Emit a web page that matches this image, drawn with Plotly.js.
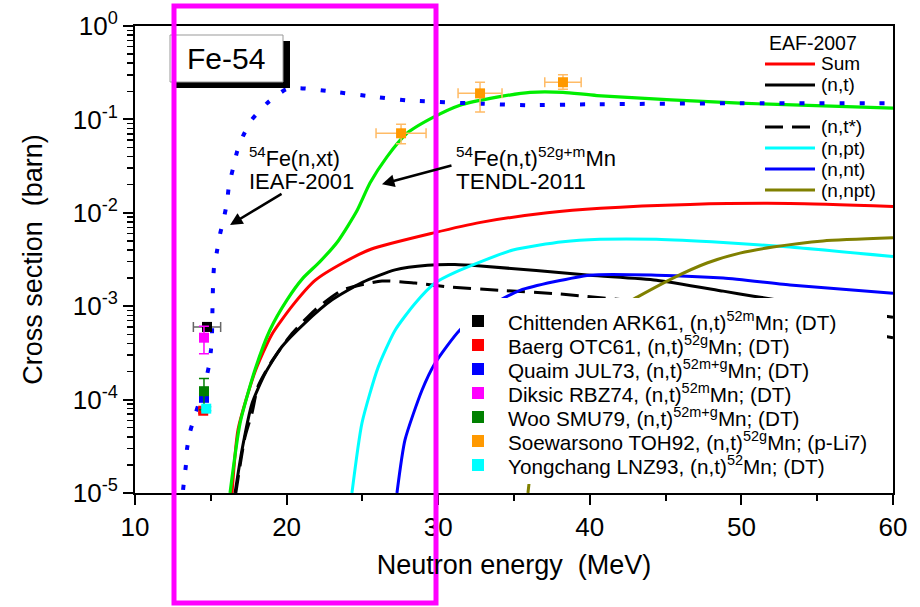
<!DOCTYPE html>
<html><head><meta charset="utf-8">
<script src="https://cdn.plot.ly/plotly-3.0.1.min.js"></script>
<style>html,body{margin:0;padding:0;background:#fff}#chart{width:920px;height:607px}</style>
</head><body><div id="chart"></div>
<script>
// ---------- EAF-2007 evaluated curves (energy MeV, cross section barn) ----------
const sumE  = [16.4,16.8,17.9,19.0,20.4,21.9,23.7,25.6,29.7,32.8,37.2,40.7,46.6,53.2,60];
const sumY  = [1e-5,4.8e-5,1.95e-4,4.9e-4,1.02e-3,1.9e-3,2.9e-3,4.1e-3,6.1e-3,7.9e-3,1.0e-2,1.12e-2,1.23e-2,1.26e-2,1.17e-2];
const ntE   = [16.6,17.06,17.72,18.58,19.7,21.2,23.0,25.0,27.15,29.3,31.1,32.8,40.0,44.4,48.8,50.8,55.0,60];
const ntY   = [1e-5,2.9e-5,9.1e-5,1.9e-4,3.7e-4,6.6e-4,1.17e-3,1.8e-3,2.45e-3,2.75e-3,2.8e-3,2.7e-3,2.15e-3,1.9e-3,1.45e-3,1.28e-3,1.0e-3,7.6e-4];
const ntsE  = [16.65,17.26,17.72,18.11,19.04,20.36,21.87,23.65,26.29,28.47,30.65,34.08,38.03,45,52,60];
const ntsY  = [1e-5,4e-5,7.2e-5,1.38e-4,2.6e-4,5.1e-4,9.1e-4,1.48e-3,1.86e-3,1.77e-3,1.61e-3,1.48e-3,1.35e-3,1.05e-3,7.5e-4,4.6e-4];
const nptE  = [24.31,24.97,26.03,27.15,28.47,29.79,31.11,34.93,38.23,40.67,44.4,48.8,53.2,60];
const nptY  = [1e-5,5.6e-5,2.2e-4,5.5e-4,1.07e-3,1.77e-3,2.3e-3,4.0e-3,4.9e-3,5.2e-3,5.2e-3,4.8e-3,4.3e-3,3.4e-3];
const nntE  = [27.28,27.81,28.93,29.79,31.4,33.4,35.4,40.0,44.4,48.8,53.2,60];
const nntY  = [1e-5,3.7e-5,1.26e-4,2.45e-4,5.5e-4,1.0e-3,1.48e-3,2.15e-3,2.15e-3,2.0e-3,1.69e-3,1.38e-3];
const nnptE = [35.92,36.5,37.5,39,41,43.31,45.49,47.73,49.9,52.08,55.38,60];
const nnptY = [1e-5,5e-5,1.5e-4,4e-4,8e-4,1.3e-3,2.0e-3,2.9e-3,3.7e-3,4.3e-3,5.0e-3,5.4e-3];

// ---------- TENDL-2011 54Fe(n,t)52g+mMn ----------
const tendlE = [16.27,16.93,17.92,18.91,20.03,21.08,22.2,23.4,24.64,25.5,26.62,27.94,29.66,31.44,33.88,36.06,38.23,40.47,49.9,60];
const tendlY = [1e-5,5.6e-5,2.1e-4,5.6e-4,1.17e-3,2.0e-3,3.0e-3,5.0e-3,1.05e-2,2.08e-2,3.97e-2,7.1e-2,0.105,0.142,0.173,0.195,0.195,0.18,0.149,0.132];

// ---------- IEAF-2001 54Fe(n,xt) ----------
const ieafE = [13.17,13.23,13.36,13.43,13.63,13.96,14.29,14.62,14.88,15.01,15.08,15.10,15.12,15.15,15.21,15.41,15.61,15.87,16.07,16.20,16.46,16.73,17.12,17.72,18.71,19.96,20.88,22.86,25.5,27.94,31.97,35.92,39.88,49.9,60];
const ieafY = [1.08e-5,1.32e-5,2.0e-5,2.95e-5,4.5e-5,6.8e-5,1.0e-4,1.5e-4,2.3e-4,3.4e-4,5.1e-4,7.6e-4,1.14e-3,1.73e-3,2.6e-3,3.9e-3,5.9e-3,8.9e-3,1.29e-2,1.98e-2,2.95e-2,4.5e-2,6.6e-2,0.1,0.149,0.21,0.216,0.20,0.177,0.16,0.149,0.142,0.145,0.149,0.149];

// ---------- Experimental data ----------
const chitE = [14.75], chitY = [6.0e-4], chitDY = [0.6e-4], chitDE = [0.9];
const baerE = [14.5],  baerY = [7.6e-5], baerDY = [0.4e-5];
const quaiE = [14.55], quaiY = [1.05e-4], quaiDY = [1.0e-5];
const diksE = [14.55], diksY = [4.6e-4], diksDY = [1.5e-4];
const wooE  = [14.55], wooY  = [1.23e-4], wooDY  = [0.45e-4];
const soewE = [27.55,32.76,38.23], soewY = [0.071,0.19,0.25];
const soewDYp = [0.018,0.06,0.05], soewDYm = [0.016,0.07,0.04], soewDE = [1.65,1.45,1.2];
const yongE = [14.7],  yongY = [8.0e-5], yongDY = [0.4e-5];

// ---------- Labels ----------
const eafNames = ['Sum','(n,t)','(n,t*)','(n,pt)','(n,nt)','(n,npt)'];
const expNames = [
  'Chittenden ARK61, (n,t)<sup>52m</sup>Mn; (DT)',
  'Baerg OTC61, (n,t)<sup>52g</sup>Mn; (DT)',
  'Quaim JUL73, (n,t)<sup>52m+g</sup>Mn; (DT)',
  'Diksic RBZ74, (n,t)<sup>52m</sup>Mn; (DT)',
  'Woo SMU79, (n,t)<sup>52m+g</sup>Mn; (DT)',
  'Soewarsono TOH92, (n,t)<sup>52g</sup>Mn; (p-Li7)',
  'Yongchang LNZ93, (n,t)<sup>52</sup>Mn; (DT)'
];
const yTickVals = [1e-5,1e-4,1e-3,1e-2,1e-1,1];
const yTickText = ['10<sup>-5</sup>','10<sup>-4</sup>','10<sup>-3</sup>','10<sup>-2</sup>','10<sup>-1</sup>','10<sup>0</sup>'];
const xTickVals = [10,20,30,40,50,60];

// ---------- styles ----------
const FONT = 'Liberation Sans, Arial, sans-serif';
const eafColors = ['#ff0000','#000000','#000000','#00ffff','#0000ff','#808000'];
const eafDash   = ['solid','solid','18px,9px','solid','solid','solid'];
const expColors = ['#000000','#ff0000','#0000ff','#ff00ff','#008000','#ff9900','#00ffff'];
const errColors = ['#666666','#ff0000','#0000ff','#ff00ff','#008000','#ffbb66','#00cccc'];

const L=135, R=893, T=26, B=493;
const PX = v => (v-L)/(R-L);
const PY = v => (B-v)/(B-T);

const lineSets = [[sumE,sumY],[ntE,ntY],[ntsE,ntsY],[nptE,nptY],[nntE,nntY],[nnptE,nnptY]];
const traces = [];
lineSets.forEach((s,i)=>{
  traces.push({x:s[0], y:s[1], type:'scatter', mode:'lines', name:eafNames[i], showlegend:false,
    line:{color:eafColors[i], width:3, dash:eafDash[i], shape:'spline', smoothing:0.6}});
});
traces.push({x:tendlE, y:tendlY, type:'scatter', mode:'lines', name:'TENDL-2011', showlegend:false,
  line:{color:'#00ee00', width:3.2, shape:'spline', smoothing:0.6}});
traces.push({x:ieafE, y:ieafY, type:'scatter', mode:'lines', name:'IEAF-2001', showlegend:false,
  line:{color:'#0000ff', width:4, dash:'5px,15px', shape:'spline', smoothing:0.5}});

const expSets = [
  {x:chitE,y:chitY,ey:{type:'data',array:chitDY,visible:true},ex:{type:'data',array:chitDE,visible:true}},
  {x:baerE,y:baerY,ey:{type:'data',array:baerDY,visible:true}},
  {x:quaiE,y:quaiY,ey:{type:'data',array:quaiDY,visible:true}},
  {x:diksE,y:diksY,ey:{type:'data',array:diksDY,visible:true}},
  {x:wooE,y:wooY,ey:{type:'data',array:wooDY,visible:true}},
  {x:soewE,y:soewY,ey:{type:'data',array:soewDYp,arrayminus:soewDYm,symmetric:false,visible:true},ex:{type:'data',array:soewDE,visible:true}},
  {x:yongE,y:yongY,ey:{type:'data',array:yongDY,visible:true}}
];
expSets.forEach((d,i)=>{
  const t = {x:d.x, y:d.y, type:'scatter', mode:'markers', name:expNames[i], showlegend:false,
    marker:{symbol:'square', size:10, color:expColors[i]}};
  t.error_y = Object.assign({color:errColors[i], thickness:1.5, width:5}, d.ey);
  if (d.ex) t.error_x = Object.assign({color:errColors[i], thickness:1.5, width:5}, d.ex);
  traces.push(t);
});

// ---------- shapes & annotations ----------
const shapes = [];
const ann = [];
function txt(x, y, text, size, xanchor){
  ann.push({xref:'paper', yref:'paper', x:PX(x), y:PY(y), xanchor:xanchor||'center', yanchor:'middle',
    text:text, showarrow:false, font:{family:FONT, size:size, color:'#000'}});
}
// Fe-54 box with shadow
shapes.push({type:'rect', xref:'paper', yref:'paper', x0:PX(176), x1:PX(290), y0:PY(88), y1:PY(41), fillcolor:'#000', line:{width:0}, layer:'above'});
shapes.push({type:'rect', xref:'paper', yref:'paper', x0:PX(170), x1:PX(283), y0:PY(82), y1:PY(35), fillcolor:'#fff', line:{color:'#999', width:1}, layer:'above'});
txt(226, 59, 'Fe-54', 30);

// EAF-2007 legend
txt(813, 43, 'EAF-2007', 19.5);
const eafRows = [64,85,127,148,169,190];
eafNames.forEach((n,i)=>{
  shapes.push({type:'line', xref:'paper', yref:'paper', x0:PX(765), x1:PX(815), y0:PY(eafRows[i]), y1:PY(eafRows[i]),
    line:{color:eafColors[i], width:3, dash:eafDash[i]}, layer:'above'});
  txt(819, eafRows[i], n, 19, 'left');
});

// experimental legend (opaque white box)
shapes.push({type:'rect', xref:'paper', yref:'paper', x0:PX(460), x1:PX(887), y0:PY(484), y1:PY(298), fillcolor:'#fff', line:{width:0}, layer:'above'});
const expRows = [321,345,369,393,417,441,465];
expNames.forEach((n,i)=>{
  shapes.push({type:'rect', xref:'paper', yref:'paper', x0:PX(472), x1:PX(484), y0:PY(expRows[i]+6), y1:PY(expRows[i]-6),
    fillcolor:expColors[i], line:{width:0}, layer:'above'});
  txt(506, expRows[i], n, 20.7, 'left');
});

// curve labels
txt(247, 157, '<sup>54</sup>Fe(n,xt)', 21.5, 'left');
txt(247, 182, 'IEAF-2001', 22, 'left');
txt(454, 157, '<sup>54</sup>Fe(n,t)<sup>52g+m</sup>Mn', 22, 'left');
txt(454, 182, 'TENDL-2011', 22.5, 'left');
// arrows (y given in log10 units on log axis)
ann.push({xref:'x', yref:'y', x:16.27, y:-2.13, ax:53, ay:-32, text:'', showarrow:true, arrowhead:2, arrowsize:1, arrowwidth:2.5, arrowcolor:'#000'});
ann.push({xref:'x', yref:'y', x:26.29, y:-1.693, ax:71, ay:-19, text:'', showarrow:true, arrowhead:2, arrowsize:1, arrowwidth:2.5, arrowcolor:'#000'});

// magenta highlight rectangle
shapes.push({type:'rect', xref:'paper', yref:'paper', x0:PX(174), x1:PX(436), y0:PY(603), y1:PY(6),
  line:{color:'#ff00ff', width:5}, fillcolor:'rgba(0,0,0,0)', layer:'above'});

// minor ticks for log y
const yMinor = [];
for (let e=-5; e<0; e++) for (let k=2; k<=9; k++) yMinor.push(k*Math.pow(10,e));

const layout = {
  width:920, height:607,
  margin:{l:L, r:920-R, t:T, b:607-B},
  paper_bgcolor:'#fff', plot_bgcolor:'#fff',
  showlegend:false,
  font:{family:FONT, color:'#000'},
  xaxis:{range:[10,60], tickmode:'array', tickvals:xTickVals, ticks:'outside', ticklen:10, tickwidth:2, tickcolor:'#000',
    showline:true, linewidth:2, linecolor:'#000', mirror:true, showgrid:false, zeroline:false,
    tickfont:{family:FONT, size:26, color:'#000'},
    minor:{dtick:5, tick0:10, ticks:'outside', ticklen:6, tickwidth:2, tickcolor:'#000', showgrid:false},
    title:{text:'Neutron energy  (MeV)', font:{family:FONT, size:27, color:'#000'}, standoff:14}},
  yaxis:{type:'log', range:[-5,0], tickmode:'array', tickvals:yTickVals, ticktext:yTickText, ticks:'outside', ticklen:10, tickwidth:2, tickcolor:'#000',
    showline:true, linewidth:2, linecolor:'#000', mirror:true, showgrid:false, zeroline:false,
    tickfont:{family:FONT, size:26, color:'#000'},
    minor:{tickmode:'array', tickvals:yMinor, ticks:'outside', ticklen:6, tickwidth:1.5, tickcolor:'#000', showgrid:false},
    title:{text:'Cross section  (barn)', font:{family:FONT, size:27, color:'#000'}, standoff:22}},
  shapes:shapes,
  annotations:ann
};
Plotly.newPlot('chart', traces, layout, {displayModeBar:false, staticPlot:true});
</script>
</body></html>
